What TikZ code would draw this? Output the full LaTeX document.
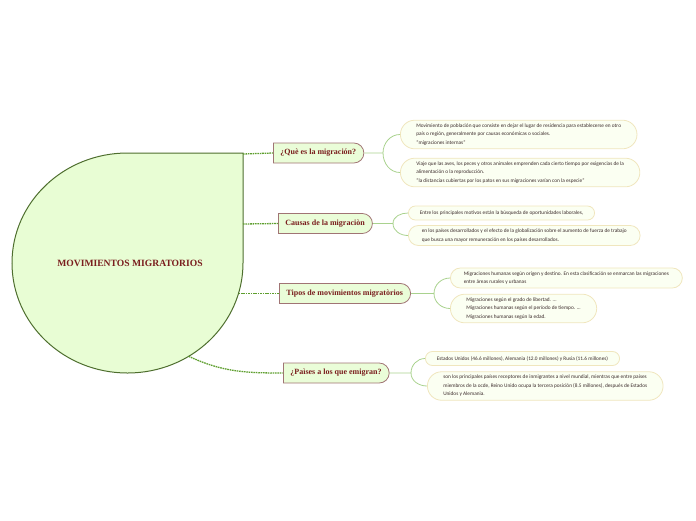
\documentclass[tikz,border=0pt]{standalone}
\usepackage{fontspec}
\setmainfont{Liberation Serif}
\newfontfamily\notefont{Carlito}
\usetikzlibrary{shapes.misc}
\definecolor{mapred}{HTML}{7A1E1E}
\definecolor{corefill}{HTML}{E8FDD4}
\definecolor{coreline}{HTML}{4E6E2E}
\definecolor{topicfill}{HTML}{EAFDD8}
\definecolor{topicline}{HTML}{A07474}
\definecolor{notefill}{HTML}{FBFFF2}
\definecolor{noteline}{HTML}{F0E6BE}
\definecolor{notetext}{HTML}{3A2A2A}
\definecolor{linkgreen}{HTML}{5E9E2E}
\definecolor{branchgreen}{HTML}{A9D28E}

\begin{document}
\begin{tikzpicture}[
    x=1pt, y=-1pt,
    topic/.style={
      rounded rectangle,
      rounded rectangle west arc=none,
      draw=topicline,
      fill=topicfill,
      line width=0.8pt,
      text=mapred,
      font=\bfseries\fontsize{8}{9}\selectfont,
      minimum height=20pt,
      inner xsep=7pt,
      anchor=west
    },
    note/.style={
      rounded rectangle,
      draw=noteline,
      fill=notefill,
      line width=0.8pt,
      text=notetext,
      align=left,
      font=\notefont\fontsize{5.3}{8.5}\selectfont,
      minimum height=14pt,
      inner xsep=11pt,
      inner ysep=3.5pt,
      anchor=west
    },
    link/.style={draw=linkgreen, line width=1.3pt, dash pattern=on 1.6pt off 0.8pt},
    branch/.style={draw=branchgreen, line width=0.8pt}
  ]
    \useasboundingbox (0,0) rectangle (696,520);

    \filldraw[fill=corefill, draw=coreline, line width=1pt]
      (243,153) -- (243,263)
      arc[start angle=0, end angle=-180, x radius=115.5pt, y radius=110pt]
      arc[start angle=180, end angle=90, x radius=115.5pt, y radius=110pt]
      -- cycle;
    \node[text=mapred, font=\bfseries\fontsize{9.6}{11}\selectfont] (core) at (130,263) {MOVIMIENTOS MIGRATORIOS};

    \coordinate (c1) at (243,154);
    \coordinate (c2) at (243,224);
    \coordinate (c3) at (238.5,293.5);
    \coordinate (c4) at (188.7,356.3);

    \node[topic] (q1) at (273,153) {¿Què es la migración?};
    \node[topic] (q2) at (278,223.5) {Causas de la migraciòn};
    \node[topic] (q3) at (279,293.5) {Tipos de movimientos migratòrios};
    \node[topic] (q4) at (283,373) {¿Paìses a los que emigran?};

    \node[note] (n1a) at (400,134.5) {Movimiento de población que consiste en dejar el lugar de residencia para establecerse en otro\\país o región, generalmente por causas económicas o sociales.\\“migraciones internas”};
    \node[note] (n1b) at (400,172.5) {Viaje que las aves, los peces y otros animales emprenden cada cierto tiempo por exigencias de la\\alimentación o la reproducción.\\“la distancias cubiertas por los patos en sus migraciones varían con la especie”};
    \node[note] (n2a) at (408,213) {Entre los principales motivos están la búsqueda de oportunidades laborales,};
    \node[note] (n2b) at (408,235.5) {en los países desarrollados y el efecto de la globalización sobre el aumento de fuerza de trabajo\\que busca una mayor remuneración en los países desarrollados.};
    \node[note] (n3a) at (450,278) {Migraciones humanas según origen y destino. En esta clasificación se enmarcan las migraciones\\entre áreas rurales y urbanas};
    \node[note] (n3b) at (450,308.5) {Migraciones según el grado de libertad. ...\\Migraciones humanas según el período de tiempo. ...\\Migraciones humanas según la edad.};
    \node[note] (n4a) at (425,358.5) {Estados Unidos (46.6 millones), Alemania (12.0 millones) y Rusia (11.6 millones)};
    \node[note] (n4b) at (427,386) {son los principales países receptores de inmigrantes a nivel mundial, mientras que entre países\\miembros de la ocde, Reino Unido ocupa la tercera posición (8.5 millones), después de Estados\\Unidos y Alemania.};

    \draw[link] (c1) -- (q1.west);
    \draw[link] (c2) -- (q2.west);
    \draw[link] (c3) -- (q3.west);
    \draw[link] (c4) to[out=-25, in=180] (q4.west);

    \coordinate (b1) at (383,153);
    \coordinate (b2) at (393,223.5);
    \coordinate (b3) at (434,293.5);
    \coordinate (b4) at (411,373);

    \draw[branch] (q1.east) -- (b1) to[out=90, in=180] (n1a.west);
    \draw[branch] (b1) to[out=-90, in=180] (n1b.west);
    \draw[branch] (q2.east) -- (b2) to[out=90, in=180] (n2a.west);
    \draw[branch] (b2) to[out=-90, in=180] (n2b.west);
    \draw[branch] (q3.east) -- (b3) to[out=90, in=180] (n3a.west);
    \draw[branch] (b3) to[out=-90, in=180] (n3b.west);
    \draw[branch] (q4.east) -- (b4) to[out=90, in=180] (n4a.west);
    \draw[branch] (b4) to[out=-90, in=180] (n4b.west);
  \end{tikzpicture}
\end{document}
